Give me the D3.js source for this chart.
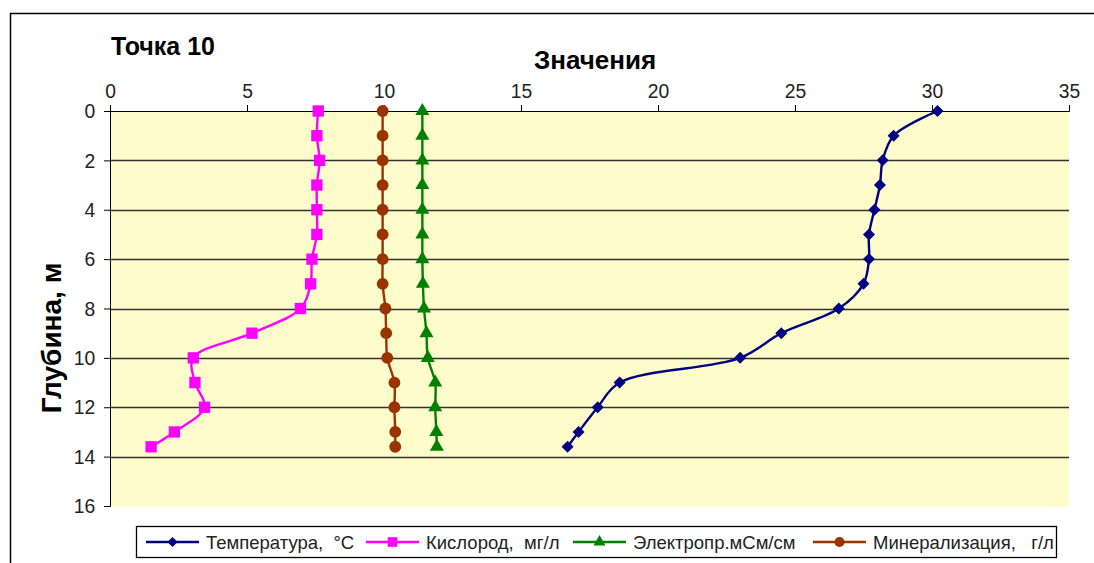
<!DOCTYPE html>
<html><head><meta charset="utf-8">
<script src="https://cdn.jsdelivr.net/npm/d3@7"></script>
<style>body{margin:0;background:#fff}svg{display:block;font-family:Arial,"Liberation Sans",sans-serif}</style>
</head><body><svg id="c" width="1094" height="563"></svg>
<script>
const depth = [0,1,2,3,4,5,6,7,8,9,10,11,12,13,13.6];
const temperature = [30.2,28.6,28.2,28.1,27.9,27.7,27.7,27.5,26.6,24.5,23.0,18.6,17.8,17.1,16.7];
const oxygen = [7.6,7.55,7.65,7.55,7.55,7.55,7.37,7.32,6.95,5.18,3.04,3.1,3.45,2.35,1.5];
const conductivity = [11.4,11.4,11.4,11.4,11.4,11.4,11.4,11.42,11.46,11.55,11.6,11.87,11.87,11.91,11.93];
const mineral = [9.95,9.95,9.95,9.95,9.95,9.95,9.95,9.95,10.05,10.08,10.12,10.38,10.38,10.41,10.41];
const xTicks = [0,5,10,15,20,25,30,35];
const yTicks = [0,2,4,6,8,10,12,14,16];
const seriesNames = ["Температура,  °C","Кислород,  мг/л","Электропр.мСм/см","Минерализация,   г/л"];
const seriesColors = ["#000080","#FF00FF","#008000","#993300"];
const seriesSymbols = ["diamond","square","triangle","circle"];
const seriesValues = [temperature, oxygen, conductivity, mineral];

const svg = d3.select("#c");
const L = 110, R = 1069, T = 111, B = 506;
const x = d3.scaleLinear().domain([0,35]).range([L,R]);
const y = d3.scaleLinear().domain([0,16]).range([T,B]);

svg.append("rect").attr("x",10.5).attr("y",13.5).attr("width",1200).attr("height",700)
  .attr("fill","none").attr("stroke","#000").attr("stroke-width",1.5);

svg.append("rect").attr("x",L).attr("y",T).attr("width",R-L).attr("height",B-T+1).attr("fill","#FEFCCB");

svg.append("g").selectAll("line").data(yTicks.filter(d=>d>0 && d<16)).join("line")
  .attr("x1",L).attr("x2",R).attr("y1",d=>Math.round(y(d))+0.5).attr("y2",d=>Math.round(y(d))+0.5)
  .attr("stroke","#333").attr("stroke-width",1.3);

const xAxis = d3.axisTop(x).tickValues(xTicks).tickSize(6).tickPadding(7);
const gx = svg.append("g").attr("transform",`translate(0,${T})`).call(xAxis);
gx.selectAll("text").attr("font-size",21).attr("fill","#222").attr("font-family","Arial,'Liberation Sans',sans-serif")
  .attr("transform","scale(0.92,1)");
gx.select(".domain").attr("stroke","#000");
gx.selectAll(".tick line").attr("stroke","#000");

const yAxis = d3.axisLeft(y).tickValues(yTicks).tickSize(6).tickPadding(10);
const gy = svg.append("g").attr("transform",`translate(${L},0)`).call(yAxis);
gy.selectAll("text").attr("font-size",21).attr("fill","#222").attr("font-family","Arial,'Liberation Sans',sans-serif")
  .attr("transform","scale(0.92,1)");
gy.select(".domain").attr("stroke","#000");
gy.selectAll(".tick line").attr("stroke","#000");

svg.append("text").attr("x",111).attr("y",55).attr("font-size",25).attr("font-weight","bold").text("Точка 10");
svg.append("text").attr("x",595).attr("y",69).attr("text-anchor","middle").attr("font-size",26).attr("font-weight","bold").text("Значения");
svg.append("text").attr("transform","translate(61,338) rotate(-90)").attr("text-anchor","middle")
  .attr("font-size",28).attr("font-weight","bold").text("Глубина, м");

function marker(sym, scale){
  const k = scale||1;
  if(sym==="diamond") return {d:d3.symbol().type(d3.symbolSquare).size(72*k*k)(), rot:45};
  if(sym==="square") return {d:d3.symbol().type(d3.symbolSquare).size(128*k*k)(), rot:0};
  if(sym==="triangle") return {d:d3.symbol().type(d3.symbolTriangle).size(85*k*k)(), rot:0};
  return {d:d3.symbol().type(d3.symbolCircle).size(110*k*k)(), rot:0};
}

const line = d3.line().x(d=>x(d[0])).y(d=>y(d[1])).curve(d3.curveCatmullRom.alpha(0.5));

seriesValues.forEach((vals,i)=>{
  const pts = vals.map((v,j)=>[v,depth[j]]);
  const g = svg.append("g");
  g.append("path").datum(pts).attr("d",line).attr("fill","none").attr("stroke",seriesColors[i]).attr("stroke-width",2.4);
  const m = marker(seriesSymbols[i]);
  g.selectAll("path.m").data(pts).join("path").attr("class","m")
    .attr("transform",d=>`translate(${x(d[0])},${y(d[1])}) rotate(${m.rot})`)
    .attr("d",m.d).attr("fill",seriesColors[i]);
});

svg.append("rect").attr("x",136.5).attr("y",526.5).attr("width",920).attr("height",31)
  .attr("fill","#fff").attr("stroke","#000").attr("stroke-width",1.3);
const legX = [146,366,573,813];
const lg = svg.append("g");
seriesNames.forEach((n,i)=>{
  const cy = 542;
  lg.append("line").attr("x1",legX[i]).attr("x2",legX[i]+53).attr("y1",cy).attr("y2",cy)
    .attr("stroke",seriesColors[i]).attr("stroke-width",2.4);
  const m = marker(seriesSymbols[i],0.85);
  lg.append("path").attr("transform",`translate(${legX[i]+26.5},${cy}) rotate(${m.rot})`)
    .attr("d",m.d).attr("fill",seriesColors[i]);
  lg.append("text").attr("x",legX[i]+60).attr("y",cy+7).attr("font-size",18.5).attr("fill","#222")
    .attr("xml:space","preserve").style("white-space","pre").text(n);
});
</script></body></html>
